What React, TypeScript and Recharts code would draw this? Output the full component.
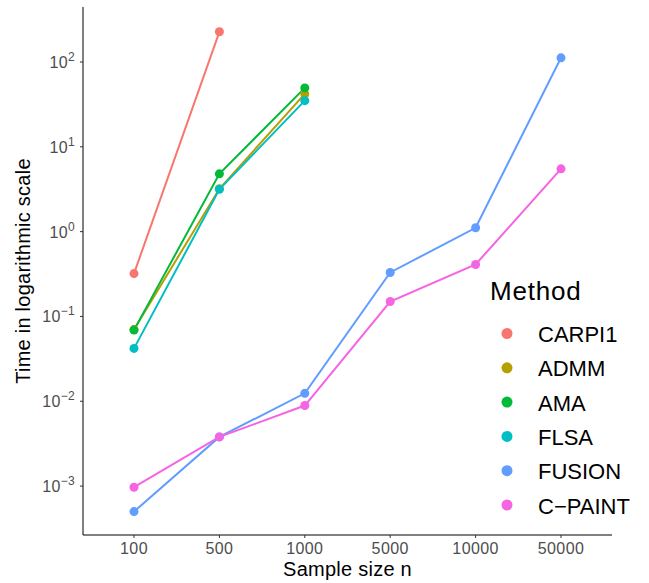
import { LineChart, Line, XAxis, YAxis } from 'recharts'

const sizes = ['100', '500', '1000', '5000', '10000', '50000']

const carpi1 = [0.32, 227]
const admm = [0.07, 3.2, 42]
const ama = [0.069, 4.8, 49.5]
const flsa = [0.042, 3.15, 35]
const fusion = [0.0005, 0.0038, 0.0124, 0.33, 1.11, 112]
const cpaint = [0.00097, 0.0038, 0.0089, 0.15, 0.41, 5.5]

const yTicks = [0.001, 0.01, 0.1, 1, 10, 100]

const methods = [
  { key: 'CARPI1', values: carpi1, color: '#F8766D' },
  { key: 'ADMM', values: admm, color: '#B79F00' },
  { key: 'AMA', values: ama, color: '#00BA38' },
  { key: 'FLSA', values: flsa, color: '#00BFC4' },
  { key: 'FUSION', values: fusion, color: '#619CFF' },
  { key: 'C-PAINT', values: cpaint, color: '#F564E3' },
]

const data = sizes.map((n, i) => {
  const row: Record<string, string | number | undefined> = { n }
  methods.forEach((m) => {
    row[m.key] = m.values[i]
  })
  return row
})

const font = '"Liberation Sans", Arial, sans-serif'

function YTick({ x, y, payload }: any) {
  const exp = Math.round(Math.log10(payload.value))
  return (
    <text x={x - 3} y={y + 6} textAnchor="end" fill="#4D4D4D" fontFamily={font} fontSize={16} letterSpacing={0.3}>
      10
      <tspan dy={-7} fontSize={12}>{exp < 0 ? '\u2212' + Math.abs(exp) : exp}</tspan>
    </text>
  )
}

export default function App() {
  return (
    <div style={{ position: 'absolute', left: 0, top: 0, width: 649, height: 583, background: '#fff' }}>
      <LineChart width={649} height={583} data={data} margin={{ top: 7, right: 37, left: 0, bottom: 0 }}>
        <XAxis
          dataKey="n"
          padding={{ left: 51, right: 51 }}
          height={48}
          stroke="#000"
          tickLine={{ stroke: '#333' }}
          tickSize={3}
          tickMargin={5}
          tick={{ fill: '#4D4D4D', fontSize: 16, fontFamily: font, letterSpacing: 0.4 }}
          label={{ value: 'Sample size n', position: 'insideBottom', offset: 7, fill: '#000', fontSize: 20, fontFamily: font, letterSpacing: 0.25 }}
        />
        <YAxis
          scale="log"
          domain={[0.000265, 445]}
          ticks={yTicks}
          width={83}
          stroke="#000"
          tickLine={{ stroke: '#333' }}
          tickSize={3}
          tick={<YTick />}
          allowDataOverflow
          label={{ value: 'Time in logarithmic scale', angle: -90, position: 'insideLeft', dx: 18, fill: '#000', fontSize: 20, fontFamily: font, letterSpacing: 0.25, style: { textAnchor: 'middle' } }}
        />
        {methods.map((m) => (
          <Line
            key={m.key}
            dataKey={m.key}
            stroke={m.color}
            strokeWidth={2}
            dot={{ r: 4.5, fill: m.color, stroke: 'none' }}
            isAnimationActive={false}
          />
        ))}
        <text x={490} y={300} fontFamily={font} fontSize={26} letterSpacing={0.8} fill="#000">Method</text>
        {methods.map((m, i) => (
          <g key={m.key}>
            <circle cx={507} cy={333.5 + i * 34.3} r={5.5} fill={m.color} />
            <text x={538} y={333.5 + i * 34.3 + 8.5} fontFamily={font} fontSize={22} fill="#000">
              {m.key === 'C-PAINT' ? 'C\u2212PAINT' : m.key}
            </text>
          </g>
        ))}
      </LineChart>
    </div>
  )
}
